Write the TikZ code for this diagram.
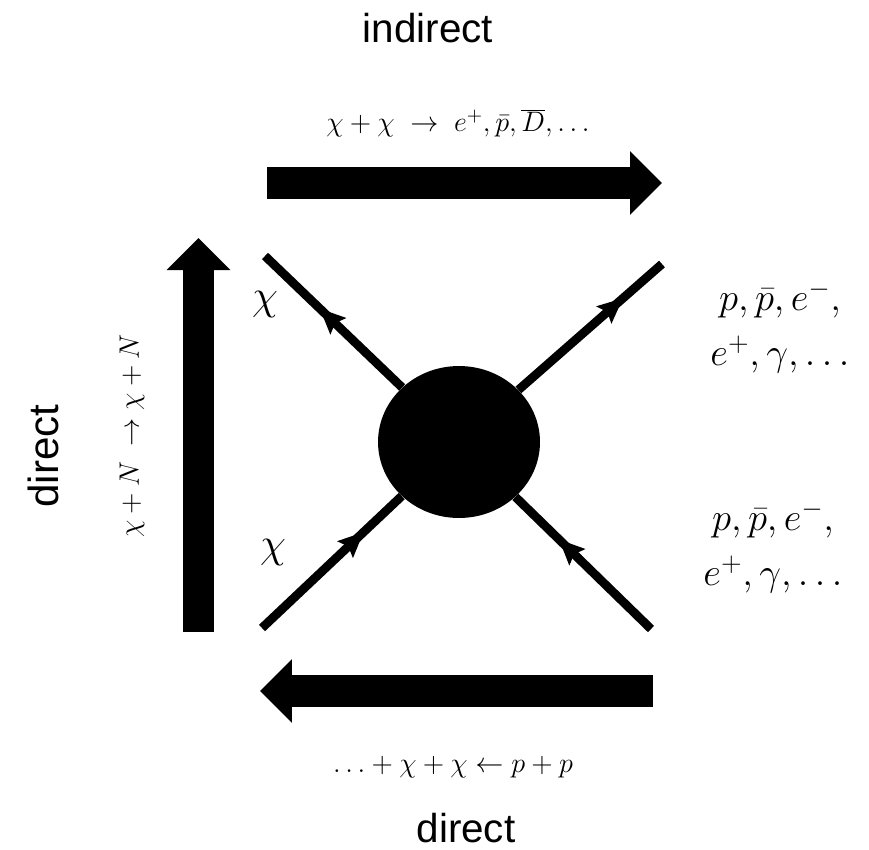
\RequirePackage{fix-cm}
\documentclass[tikz,border=0pt]{standalone}
\usepackage{fontspec}
\setsansfont{Liberation Sans}
\usetikzlibrary{arrows.meta,decorations.markings,shapes.geometric}
\begin{document}
\begin{tikzpicture}[x=0.02cm,y=-0.02cm,
    leg/.style={line width=5pt,postaction={decorate},
      decoration={markings,mark=at position #1 with {\arrow{Stealth[length=0.5cm,width=0.44cm,inset=0.08cm]}}}},
    fat/.style={line width=0.64cm,-{Triangle[length=0.64cm,width=1.24cm]}},
    eqn/.style={font=\fontsize{16}{19}\selectfont},
    outs/.style={font=\fontsize{22}{31}\selectfont,align=center},
    word/.style={font=\sffamily\fontsize{23}{27}\selectfont}]
    \useasboundingbox (0,0) rectangle (869,849);
    % the blob and its four legs
    \node[ellipse,fill,minimum width=3.24cm,minimum height=3.04cm,inner sep=0pt] (blob) at (459,442) {};
    \coordinate (tl) at (265,256);
    \coordinate (tr) at (662,264);
    \coordinate (bl) at (262,628);
    \coordinate (br) at (651,629);
    \draw[leg=0.6] (blob) -- (tl);
    \draw[leg=0.73] (blob) -- (tr);
    \draw[leg=0.73] (bl) -- (blob);
    \draw[leg=0.68] (br) -- (blob);
    % big arrows
    \coordinate (ta) at (267,183);
    \coordinate (tb) at (662,183);
    \coordinate (la) at (198.5,632);
    \coordinate (lb) at (198.5,238);
    \coordinate (ba) at (653,691);
    \coordinate (bb) at (260,691);
    \draw[fat] (ta) -- (tb);
    \draw[fat] (la) -- (lb);
    \draw[fat] (ba) -- (bb);
    % labels
    \node[eqn] (topeq) at (458,123) {$\chi+\chi\;\rightarrow\;e^{+},\bar{p},\overline{D},\dots$};
    \node[eqn,rotate=90] (sideeq) at (132,436) {$\chi+N\;\rightarrow\chi+N$};
    \node[eqn] (boteq) at (453,767) {$\dots+\chi+\chi\leftarrow p+p$};
    \node[outs] (outa) at (780,327) {$p,\bar{p},e^{-},$\\$e^{+},\gamma,\dots$};
    \node[outs] (outb) at (773,547) {$p,\bar{p},e^{-},$\\$e^{+},\gamma,\dots$};
    \node[font=\fontsize{24}{28}\selectfont] (chia) at (265,305) {$\chi$};
    \node[font=\fontsize{24}{28}\selectfont] (chib) at (273,553) {$\chi$};
    \node[word] (ind) at (428,28) {indirect};
    \node[word,font=\sffamily\fontsize{24}{28}\selectfont,rotate=90] (dira) at (43,456) {direct};
    \node[word] (dirb) at (466,828) {direct};
\end{tikzpicture}
\end{document}
